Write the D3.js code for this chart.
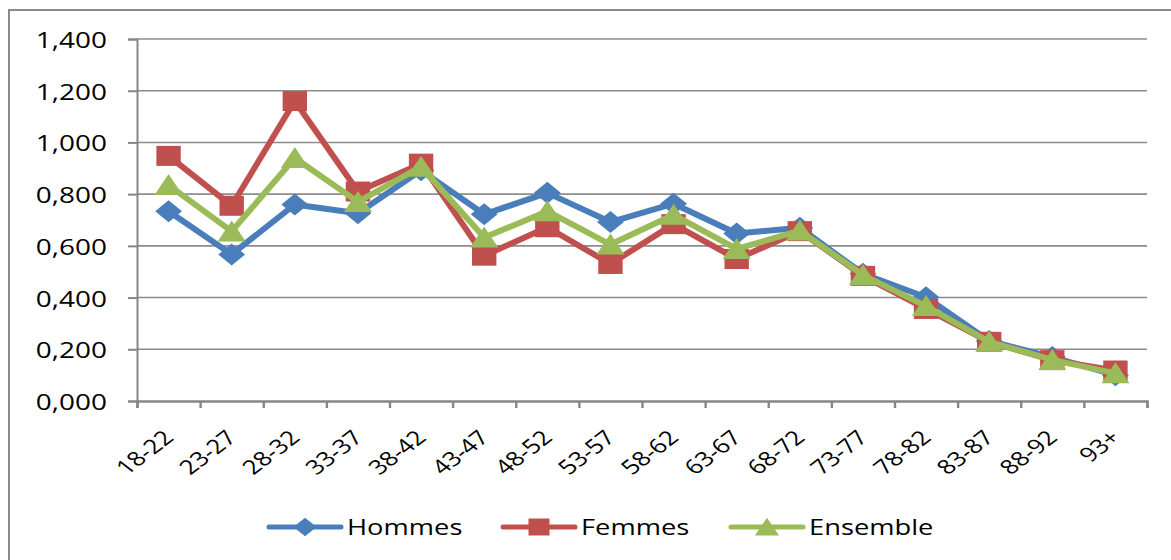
<!DOCTYPE html>
<html>
<head>
<meta charset="utf-8">
<script src="https://cdn.jsdelivr.net/npm/d3@7"></script>
<style>
  body { margin: 0; background: #fff; }
  svg { display: block; }
  text { font-family: "Open Sans", "DejaVu Sans", sans-serif; fill: #000; }
</style>
</head>
<body>
<div id="chart"></div>
<script>
// data
var categories = ["18-22", "23-27", "28-32", "33-37", "38-42", "43-47", "48-52", "53-57",
  "58-62", "63-67", "68-72", "73-77", "78-82", "83-87", "88-92", "93+"];
var hommes = [0.734, 0.567, 0.760, 0.726, 0.892, 0.722, 0.805, 0.692,
  0.763, 0.648, 0.670, 0.492, 0.401, 0.232, 0.170, 0.100];
var femmes = [0.948, 0.755, 1.160, 0.810, 0.918, 0.562, 0.672, 0.530,
  0.684, 0.549, 0.657, 0.484, 0.356, 0.229, 0.158, 0.118];
var ensemble = [0.835, 0.656, 0.940, 0.770, 0.906, 0.632, 0.734, 0.605,
  0.720, 0.588, 0.659, 0.487, 0.367, 0.229, 0.159, 0.107];
var seriesNames = ["Hommes", "Femmes", "Ensemble"];
var yTicks = [0, 0.2, 0.4, 0.6, 0.8, 1.0, 1.2, 1.4];

// svg area
var svgWidth = 1171;
var svgHeight = 560;
var margin = { top: 39, right: 24, bottom: 159, left: 137 };
var width = svgWidth - margin.left - margin.right;
var height = svgHeight - margin.top - margin.bottom;

// the original picture is stretched sideways, so is the text
var stretch = 1.3;
var axisColor = "#868686";
var colors = ["#4a7ebb", "#c0504d", "#9bbb59"];
var markers = ["diamond", "square", "triangle"];

var svg = d3.select("#chart")
  .append("svg")
  .attr("width", svgWidth)
  .attr("height", svgHeight);

// outer chart border (runs off the right and bottom edges)
svg.append("rect")
  .attr("x", 9)
  .attr("y", 10)
  .attr("width", 1200)
  .attr("height", 600)
  .attr("fill", "none")
  .attr("stroke", "#8a8a8a")
  .attr("stroke-width", 2);

var chartGroup = svg.append("g")
  .attr("transform", `translate(${margin.left}, ${margin.top})`);

// scales
var x = d3.scaleBand()
  .domain(categories)
  .range([0, width])
  .padding(0);
var xEdge = d3.scaleLinear()
  .domain([0, categories.length])
  .range([0, width]);
var y = d3.scaleLinear()
  .domain([0, 1.4])
  .range([height, 0]);

var fmt = function(d) { return d3.format(".3f")(d).replace(".", ","); };

// gridlines
chartGroup.append("g")
  .selectAll("line")
  .data(yTicks.filter(d => d > 0))
  .enter()
  .append("line")
  .attr("x1", 0)
  .attr("x2", width)
  .attr("y1", d => y(d))
  .attr("y2", d => y(d))
  .attr("stroke", "#8c8c8c")
  .attr("stroke-width", 1.6);

// y axis
var leftAxis = d3.axisLeft(y).tickValues(yTicks).tickSize(9).tickFormat("");
var yAxis = chartGroup.append("g").call(leftAxis);
yAxis.selectAll("path, line").attr("stroke", axisColor).attr("stroke-width", 2);

chartGroup.append("g")
  .selectAll("text")
  .data(yTicks)
  .enter()
  .append("text")
  .attr("transform", d => `translate(-30, ${y(d)}) scale(${stretch}, 1)`)
  .attr("dy", "0.42em")
  .attr("text-anchor", "end")
  .attr("font-size", 21.5)
  .text(fmt);

// x axis, ticks between categories
var bottomAxis = d3.axisBottom(xEdge).tickValues(d3.range(categories.length + 1)).tickSize(7).tickFormat("");
var xAxis = chartGroup.append("g")
  .attr("transform", `translate(0, ${height})`)
  .call(bottomAxis);
xAxis.selectAll("path, line").attr("stroke", axisColor).attr("stroke-width", 2.4);

chartGroup.append("g")
  .selectAll("text")
  .data(categories)
  .enter()
  .append("text")
  .attr("transform", d => `translate(${x(d) + x.bandwidth() / 2}, ${height + 33}) scale(${stretch}, 1) rotate(-45)`)
  .attr("dy", "0.35em")
  .attr("text-anchor", "end")
  .attr("font-size", 20)
  .text(d => d);

// marker shapes
function markerPath(type) {
  if (type === "diamond") return "M0,-11L11,0L0,11L-11,0Z";
  if (type === "square") return "M-10,-10L10,-10L10,10L-10,10Z";
  return "M0,-11L11.5,10L-11.5,10Z";
}

var seriesData = [hommes, femmes, ensemble];
var line = d3.line()
  .x((d, i) => x(categories[i]) + x.bandwidth() / 2)
  .y(d => y(d));

seriesData.forEach(function(values, s) {
  var g = chartGroup.append("g");
  g.append("path")
    .datum(values)
    .attr("d", line)
    .attr("fill", "none")
    .attr("stroke", colors[s])
    .attr("stroke-width", 6)
    .attr("stroke-linejoin", "round");
  g.selectAll(".marker")
    .data(values)
    .enter()
    .append("path")
    .attr("class", "marker")
    .attr("transform", (d, i) => `translate(${x(categories[i]) + x.bandwidth() / 2}, ${y(d)}) scale(1.22, 1)`)
    .attr("d", markerPath(markers[s]))
    .attr("fill", colors[s]);
});

// legend
var legendX = [269, 503, 731];
var legend = svg.append("g")
  .attr("transform", "translate(0, 527)");

seriesNames.forEach(function(name, s) {
  var item = legend.append("g")
    .attr("transform", `translate(${legendX[s]}, 0)`);
  item.append("line")
    .attr("x1", 0)
    .attr("x2", 72)
    .attr("stroke", colors[s])
    .attr("stroke-width", 5)
    .attr("stroke-linecap", "round");
  item.append("path")
    .attr("transform", "translate(36, 0) scale(1.05, 0.85)")
    .attr("d", markerPath(markers[s]))
    .attr("fill", colors[s]);
  item.append("text")
    .attr("transform", `translate(78, 0) scale(${stretch}, 1)`)
    .attr("dy", "0.4em")
    .attr("font-size", 21)
    .text(name);
});
</script>
</body>
</html>
